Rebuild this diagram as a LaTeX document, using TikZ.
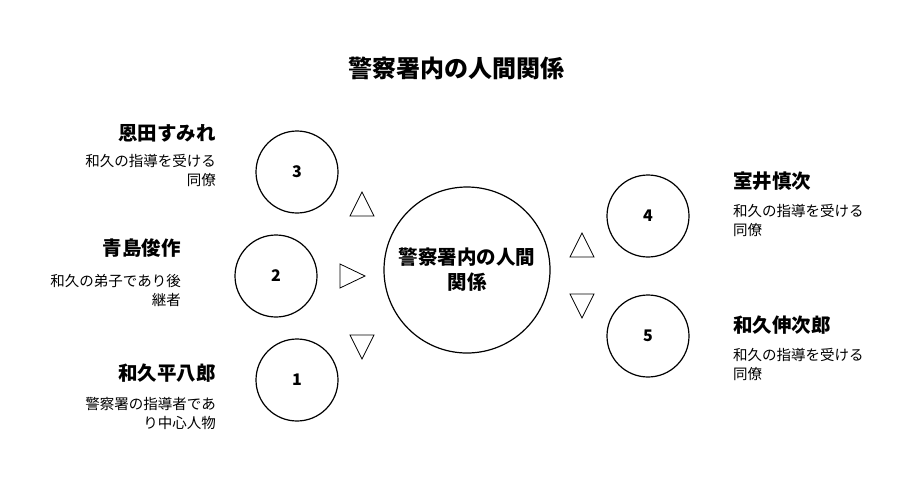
\documentclass[tikz,border=0pt]{standalone}
\usepackage{fontspec}
\setmainfont{Noto Sans CJK JP}
\usetikzlibrary{shapes.geometric}
\begin{document}
\begin{tikzpicture}[x=1pt,y=-1pt,
  circ/.style={draw,circle,line width=1.2pt,inner sep=0pt,font=\fontsize{16}{18}\selectfont\bfseries},
  nm/.style={font=\fontsize{19.5}{22}\selectfont\bfseries},
  desc/.style={font=\fontsize{14.5}{19}\selectfont,align=left,inner sep=0pt},
  descr/.style={font=\fontsize{14.5}{19}\selectfont,align=right,inner sep=0pt},
  tri/.style={draw,line width=0.8pt,fill=white}]
\useasboundingbox (0,0) rectangle (912,491);
\node[font=\fontsize{24}{28}\selectfont\bfseries] (title) at (456,68) {警察署内の人間関係};
\node[circ,minimum size=166pt,align=center,font=\fontsize{19.5}{25}\selectfont\bfseries] (c) at (467,270) {警察署内の人間\\関係};
\node[circ,minimum size=82pt] (n3) at (297,172) {3};
\node[circ,minimum size=82pt] (n2) at (276,276) {2};
\node[circ,minimum size=82pt] (n1) at (297,380) {1};
\node[circ,minimum size=82pt] (n4) at (648,216) {4};
\node[circ,minimum size=82pt] (n5) at (648,336) {5};
% triangles
\draw[tri] (350,216) -- (374,216) -- (362,192) -- cycle;
\draw[tri] (340,264) -- (340,288) -- (365,276) -- cycle;
\draw[tri] (350,335) -- (374,335) -- (362,359) -- cycle;
\draw[tri] (570,257) -- (594,257) -- (582,233) -- cycle;
\draw[tri] (570,294) -- (594,294) -- (582,318) -- cycle;
% left labels
\node[nm,anchor=east,inner sep=0pt] (l3) at (216,133) {恩田すみれ};
\node[descr,anchor=north east] (d3) at (216,154) {和久の指導を受ける\\同僚};
\node[nm,anchor=east,inner sep=0pt] (l2) at (181,248) {青島俊作};
\node[descr,anchor=north east] (d2) at (181,274) {和久の弟子であり後\\継者};
\node[nm,anchor=east,inner sep=0pt] (l1) at (216,373) {和久平八郎};
\node[descr,anchor=north east] (d1) at (216,397) {警察署の指導者であ\\り中心人物};
% right labels
\node[nm,anchor=west,inner sep=0pt] (l4) at (733,181) {室井慎次};
\node[desc,anchor=north west] (d4) at (733,204) {和久の指導を受ける\\同僚};
\node[nm,anchor=west,inner sep=0pt] (l5) at (733,325) {和久伸次郎};
\node[desc,anchor=north west] (d5) at (733,348) {和久の指導を受ける\\同僚};
\end{tikzpicture}
\end{document}
